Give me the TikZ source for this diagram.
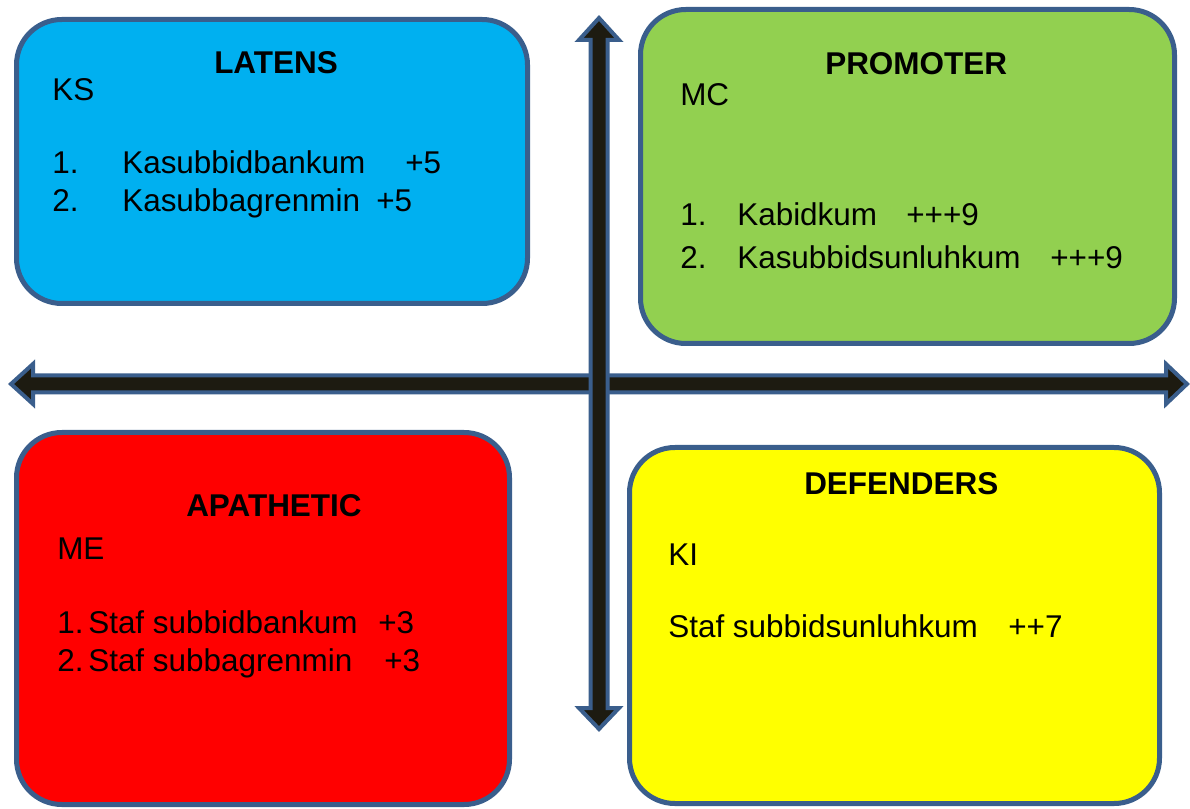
\documentclass[tikz,border=0pt]{standalone}
\usepackage{fontspec}
\setmainfont{Liberation Sans}
\definecolor{qblue}{RGB}{0,176,240}
\definecolor{qgreen}{RGB}{146,208,80}
\definecolor{qred}{RGB}{255,0,0}
\definecolor{qyellow}{RGB}{255,255,0}
\definecolor{qedge}{RGB}{58,94,140}
\definecolor{qdark}{RGB}{29,27,17}
\usetikzlibrary{positioning}

\begin{document}
\begin{tikzpicture}[x=0.75pt, y=-0.75pt,
  qbox/.style={rectangle, rounded corners=34pt, draw=qedge, line width=3.75pt,
               inner sep=0pt, outer sep=0pt, anchor=north west},
  qtitle/.style={font=\fontsize{23.6}{28}\selectfont\bfseries, anchor=base west, inner sep=0pt},
  qtxt/.style={font=\fontsize{23.6}{28}\selectfont, anchor=base west, inner sep=0pt},
  axis/.style={draw=qedge, fill=qdark, line width=3pt, miter limit=10}
]
\useasboundingbox (0,0) rectangle (1190,809);

% Quadrant boxes
\node[qbox, fill=qblue,   minimum width=511*0.75pt, minimum height=284*0.75pt] (latens)   at (16.5,19.5)  {};
\node[qbox, fill=qgreen,  minimum width=534*0.75pt, minimum height=334*0.75pt] (promoter) at (640.5,9.5)  {};
\node[qbox, fill=qred,    minimum width=493*0.75pt, minimum height=372*0.75pt] (apathetic) at (16.5,432.5) {};
\node[qbox, fill=qyellow, minimum width=530*0.75pt, minimum height=356*0.75pt] (defenders) at (629.5,447.5) {};

% Axes
\draw[axis] (11,384) -- (33,364) -- (33,375.5) -- (1166,375.5) -- (1166,364) -- (1187,384)
  -- (1166,404) -- (1166,392.5) -- (33,392.5) -- (33,404) -- cycle;
\draw[axis] (599,18) -- (619,40) -- (607.5,40) -- (607.5,708) -- (619,708) -- (599,729)
  -- (579,708) -- (590.5,708) -- (590.5,40) -- (579,40) -- cycle;

% LATENS
\node[qtitle] (lattitle) at (214,74)  {LATENS};
\node[qtxt]   (latcode)  at (52,101)  {KS};
\node[qtxt]   (latnuma)  at (52,174)  {1.};
\node[qtxt]   (latnama)  at (122,174) {Kasubbidbankum};
\node[qtxt]   (latvala)  at (405,174) {+5};
\node[qtxt]   (latnumb)  at (52,212)  {2.};
\node[qtxt]   (latnamb)  at (122,212) {Kasubbagrenmin};
\node[qtxt]   (latvalb)  at (376,212) {+5};

% PROMOTER
\node[qtitle] (protitle) at (825,75)  {PROMOTER};
\node[qtxt]   (procode)  at (680,106) {MC};
\node[qtxt]   (pronuma)  at (680,226) {1.};
\node[qtxt]   (pronama)  at (737,226) {Kabidkum};
\node[qtxt]   (provala)  at (906,226) {+++9};
\node[qtxt]   (pronumb)  at (680,269) {2.};
\node[qtxt]   (pronamb)  at (737,269) {Kasubbidsunluhkum};
\node[qtxt]   (provalb)  at (1050,269) {+++9};

% APATHETIC
\node[qtitle] (apatitle) at (186,517) {APATHETIC};
\node[qtxt]   (apacode)  at (57,559)  {ME};
\node[qtxt]   (apanuma)  at (57,633)  {1.};
\node[qtxt]   (apanama)  at (88,633)  {Staf subbidbankum};
\node[qtxt]   (apavala)  at (378,633) {+3};
\node[qtxt]   (apanumb)  at (57,671)  {2.};
\node[qtxt]   (apanamb)  at (88,671)  {Staf subbagrenmin};
\node[qtxt]   (apavalb)  at (384,671) {+3};

% DEFENDERS
\node[qtitle] (deftitle) at (804,494) {DEFENDERS};
\node[qtxt]   (defcode)  at (668,565) {KI};
\node[qtxt]   (defnama)  at (668,637) {Staf subbidsunluhkum};
\node[qtxt]   (defvala)  at (1008,637) {++7};
\end{tikzpicture}
\end{document}
